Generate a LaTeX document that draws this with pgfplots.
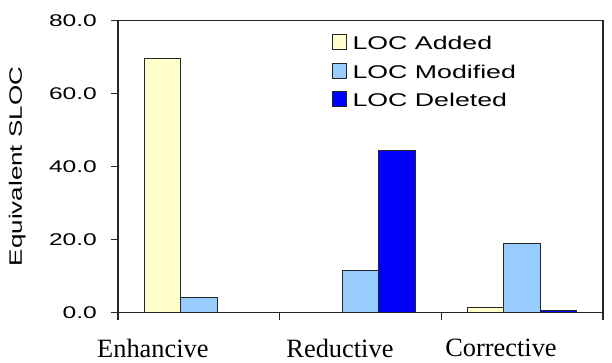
\documentclass[border=0pt]{standalone}
\usepackage{fontspec}
\setmainfont{Liberation Serif}
\newfontfamily\sansf{Liberation Sans}[FakeStretch=1.45]
\usepackage{pgfplots}
\pgfplotsset{compat=1.18}
\definecolor{cAdd}{HTML}{FFFFCC}
\definecolor{cMod}{HTML}{99CCFF}
\definecolor{cDel}{HTML}{0000FF}
\begin{document}
\begin{tikzpicture}
\begin{axis}[
  scale only axis,
  width=485bp, height=292bp,
  xmin=-0.5, xmax=2.5,
  ymin=0, ymax=80,
  ybar=0pt, bar width=0.226,
  axis line style={line width=1.2bp, black!85},
  xtick={-0.5,0.5,1.5,2.5},
  xticklabels={},
  extra x ticks={-0.284,0.873,1.869},
  extra x tick labels={Enhancive,Reductive,Corrective},
  extra x tick style={tick style={draw=none}},
  ytick={0,20,40,60,80},
  xtick pos=bottom, ytick pos=left,
  tick align=outside,
  major tick length=7bp,
  tick style={line width=1.2bp, black!85},
  /pgf/number format/assume math mode=true,
  yticklabel={\pgfmathprintnumber[fixed,fixed zerofill,precision=1]{\tick}},
  yticklabel style={font=\sansf\fontsize{17}{17}\selectfont, anchor=east, inner sep=0pt, xshift=-14bp},
  xticklabel style={font=\fontsize{26.5}{26.5}\selectfont, anchor=north, inner sep=0pt, yshift=-19.5bp},
  ylabel={Equivalent SLOC},
  ylabel style={font=\sansf\fontsize{18}{18}\selectfont, at={(axis description cs:-0.208,0.5)}, anchor=center},
  legend cell align=left,
  legend style={draw=none, fill=none, at={(axis description cs:0.441,0.954)}, anchor=north west,
    inner xsep=0pt, inner ysep=0pt, row sep=12.5bp, column sep=0pt,
    font=\sansf\fontsize{18.5}{18.5}\selectfont,
    nodes={inner sep=0pt, text height=13bp, text depth=0pt}},
  legend image code/.code={\draw[#1, line width=1bp] (0bp,-6.5bp) rectangle (14bp,8.5bp);
    \path[draw=none, fill=none] (20bp,0bp) circle (0.01bp);},
]
\addplot[fill=cAdd, draw=black!85, line width=1bp] coordinates {(0,69.5) (1,0) (2,1.3)};
\addplot[fill=cMod, draw=black!85, line width=1bp] coordinates {(0,4.2) (1,11.5) (2,18.8)};
\addplot[fill=cDel, draw=black!85, line width=1bp] coordinates {(0,0) (1,44.3) (2,0.6)};
\legend{LOC Added, LOC Modified, LOC Deleted}
\coordinate (ll) at (rel axis cs:0,0);
\coordinate (ur) at (rel axis cs:1,1);
\end{axis}
\pgfresetboundingbox
\path (ll) ++(-118bp,-50.5bp) coordinate (a) (ur) ++(9bp,20.5bp) coordinate (b);
\path[use as bounding box] (a) rectangle (b);
\end{tikzpicture}
\end{document}
